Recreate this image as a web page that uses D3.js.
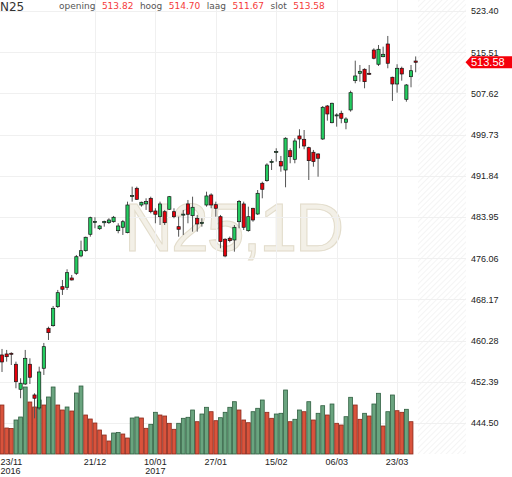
<!DOCTYPE html>
<html>
<head>
<meta charset="utf-8">
<script src="https://cdn.jsdelivr.net/npm/d3@7"></script>
<style>
  body { margin: 0; background: #fff; }
  svg text { font-family: "Liberation Sans", Arial, sans-serif; }
</style>
</head>
<body>
<div id="chart"></div>
<script>

// trading days, 23/11/2016 .. 29/03/2017
let dates = [
  '23/11','24/11','25/11','28/11','29/11','30/11',
  '01/12','02/12','05/12','06/12','07/12','08/12','09/12','12/12','13/12','14/12','15/12','16/12',
  '19/12','20/12','21/12','22/12','23/12','27/12','28/12','29/12','30/12',
  '02/01','03/01','04/01','05/01','06/01','09/01','10/01','11/01','12/01','13/01','16/01','17/01',
  '18/01','19/01','20/01','23/01','24/01','25/01','26/01','27/01','30/01','31/01',
  '01/02','02/02','03/02','06/02','07/02','08/02','09/02','10/02','13/02','14/02','15/02','16/02',
  '17/02','20/02','21/02','22/02','23/02','24/02','27/02','28/02',
  '01/03','02/03','03/03','06/03','07/03','08/03','09/03','10/03','13/03','14/03','15/03','16/03',
  '17/03','20/03','21/03','22/03','23/03','24/03','27/03','28/03','29/03'
];

let opens = [457.53,457.72,457.85,455.75,450.96,451.97,455.75,449.87,447.38,454.98,
  462.64,463.14,466.78,470.61,470.49,472.27,473.17,476.49,477.50,480.64,
  483.00,481.71,482.85,482.86,483.05,481.33,481.98,480.95,487.98,489.45,
  486.25,486.45,487.53,485.10,484.01,484.97,485.43,484.97,482.10,484.47,
  486.45,484.20,483.71,482.86,486.25,488.17,486.31,484.01,479.69,479.88,
  479.55,483.05,486.45,481.33,485.62,484.53,490.41,490.91,494.55,496.45,
  494.55,492.95,496.65,495.00,499.47,498.83,497.23,496.35,496.02,498.89,
  505.21,502.01,503.49,503.81,502.09,504.45,510.06,511.47,512.24,511.47,
  515.93,513.20,514.65,517.08,510.71,509.42,512.43,506.49,510.82,513.82];

let highs = [458.68,458.49,458.04,456.25,453.07,458.49,456.89,450.19,455.29,459.83,
  462.95,466.91,469.98,471.89,473.94,472.85,476.68,479.42,480.18,484.01,
  483.90,482.42,483.25,483.71,484.15,482.75,483.38,486.89,489.76,489.76,
  486.89,487.53,487.84,485.62,486.89,485.30,487.98,485.62,484.01,485.30,
  487.21,487.84,484.34,483.71,488.80,488.49,486.89,484.34,479.88,480.20,
  482.42,487.21,486.89,485.93,485.70,489.12,490.71,494.24,495.00,497.11,
  495.64,499.22,497.11,499.03,500.75,500.61,497.42,496.79,496.15,505.21,
  505.40,505.84,503.81,504.31,503.05,508.14,513.89,513.06,512.43,513.06,
  516.26,516.89,516.57,518.62,510.82,513.20,512.74,509.42,513.06,514.70];

let lows = [454.27,456.25,455.61,451.15,449.24,451.78,451.97,445.40,447.00,453.70,
  460.40,462.95,466.53,469.02,469.98,471.80,472.85,476.24,477.31,480.18,
  481.79,481.46,482.10,482.62,482.86,480.83,480.51,480.83,486.89,487.21,
  485.93,485.30,484.66,482.75,482.42,482.42,485.30,483.71,480.18,480.51,
  482.75,481.14,481.14,482.10,485.93,485.62,484.01,477.96,476.24,479.10,
  477.31,481.79,481.46,481.14,483.05,484.34,487.53,490.71,492.95,494.55,
  492.63,489.64,494.24,494.24,497.11,496.92,491.04,493.59,491.67,498.70,
  502.40,501.90,501.25,501.90,500.75,504.12,509.56,509.87,508.60,511.15,
  514.15,512.87,514.54,512.43,506.17,507.76,510.06,506.03,508.79,511.67];

let closes = [456.19,457.20,457.80,452.41,452.11,456.89,453.26,449.24,454.27,459.12,
  461.80,466.47,469.46,470.11,473.29,471.89,476.35,477.50,480.07,483.82,
  483.10,482.23,483.10,483.38,483.90,482.23,483.05,486.25,488.05,487.34,
  486.77,486.89,484.97,484.47,486.45,482.86,487.84,484.01,481.60,484.50,
  484.47,485.81,482.62,482.90,487.98,486.25,485.62,479.23,476.49,479.42,
  481.98,486.89,481.98,484.01,483.38,488.49,489.26,493.91,494.60,496.50,
  493.72,499.03,495.50,498.51,498.89,497.55,494.74,494.55,495.20,504.96,
  503.68,505.73,503.50,502.86,502.72,507.76,510.96,511.85,509.87,511.45,
  514.35,516.07,515.11,513.39,509.42,512.43,511.34,509.23,511.97,513.58];

// volume (millions), the running day has none yet
let volumes = [49,26,25.5,34,37,67,52,47,54,49,
  57,67,49,44,47,43,61,68,39,35,
  31,24,19,13,21,21.5,20,16,36,37,
  36,25.7,29.7,41.7,39,38,30.7,24.7,30.7,35.7,
  36.7,44,32.3,40,46.7,42.3,33.3,36.3,41.7,46.7,
  52.3,44,34,31.3,42.3,45.7,54,41.7,35.7,40,
  40.7,64,32.3,34.7,44,42.3,52.3,34,40.7,48.3,
  39,50,30.7,29,37.3,56.7,49,34.7,40.7,38,
  50,60.7,28,42.3,59,43.3,41.7,44.7,32.3,null];

let yTicks = [523.40, 515.51, 507.62, 499.73, 491.84, 483.95, 476.06, 468.17, 460.28, 452.39, 444.50];
let xTicks = ['23/11', '21/12', '10/01', '27/01', '15/02', '06/03', '23/03'];
let yearTicks = {'23/11': '2016', '10/01': '2017'};

let symbol = 'N25';
let watermark = 'N25,1D';

let width = 512;
let height = 477;
let plotRight = 466;
let plotBottom = 454;
let last = dates.length - 1;

let svg = d3.select('#chart')
    .append('svg')
    .attr('width', width)
    .attr('height', height);

let x = d3.scaleBand().domain(dates).range([-0.32, 418]);
let xc = d => x(d) + x.bandwidth() / 2;
let y = d3.scaleLinear().domain([444.50, 523.40]).range([423, 11]);
let yVol = d3.scaleLinear().domain([0, 100]).range([plotBottom, plotBottom - 100]);

// hatched future area
let defs = svg.append('defs');
defs.append('pattern')
    .attr('id', 'hatch')
    .attr('patternUnits', 'userSpaceOnUse')
    .attr('width', 4).attr('height', 4)
    .attr('patternTransform', 'rotate(45)')
  .append('line')
    .attr('x1', 0).attr('y1', 0).attr('x2', 0).attr('y2', 4)
    .attr('stroke', '#ececec').attr('stroke-width', 1.2);

svg.append('rect')
    .attr('x', 418).attr('y', 0)
    .attr('width', plotRight - 418).attr('height', plotBottom)
    .attr('fill', 'url(#hatch)');

// watermark
svg.append('text')
    .attr('x', 124).attr('y', 251)
    .attr('font-size', 68)
    .attr('textLength', 220)
    .attr('lengthAdjust', 'spacing')
    .attr('fill', '#f3f0e7')
    .attr('stroke', '#e2dccb')
    .attr('stroke-width', 1)
    .text(watermark);

// grid
let grid = svg.append('g').attr('class', 'grid');
grid.selectAll('line.h')
  .data(yTicks)
  .enter().append('line')
    .attr('class', 'h')
    .attr('x1', 0).attr('x2', plotRight)
    .attr('y1', d => Math.round(y(d)) + 0.5).attr('y2', d => Math.round(y(d)) + 0.5)
    .attr('stroke', '#f0f0f0');
grid.selectAll('line.v')
  .data(xTicks.slice(1))
  .enter().append('line')
    .attr('class', 'v')
    .attr('x1', d => Math.round(xc(d)) + 0.5).attr('x2', d => Math.round(xc(d)) + 0.5)
    .attr('y1', 0).attr('y2', plotBottom)
    .attr('stroke', '#f0f0f0');

// volume
let volIdx = d3.range(dates.length).filter(i => volumes[i] != null);
let volUp = i => i > 0 && volumes[i] > volumes[i - 1];
svg.append('g').attr('class', 'volume')
  .selectAll('rect')
  .data(volIdx)
  .enter().append('rect')
    .attr('x', i => x(dates[i]) + 0.4)
    .attr('width', x.bandwidth() - 0.8)
    .attr('y', i => yVol(volumes[i]))
    .attr('height', i => plotBottom - yVol(volumes[i]))
    .attr('fill', i => volUp(i) ? '#6aa47f' : '#d9533c')
    .attr('stroke', i => volUp(i) ? '#2f5f40' : '#8a2a1c')
    .attr('stroke-width', 0.8);

// candles
let candles = svg.append('g').attr('class', 'candles')
  .selectAll('g')
  .data(d3.range(dates.length))
  .enter().append('g');

candles.append('line')
    .attr('x1', i => xc(dates[i])).attr('x2', i => xc(dates[i]))
    .attr('y1', i => y(highs[i])).attr('y2', i => y(lows[i]))
    .attr('stroke', '#555')
    .attr('stroke-width', 1);

candles.append('rect')
    .attr('x', i => xc(dates[i]) - 1.6)
    .attr('width', 3.2)
    .attr('y', i => y(Math.max(opens[i], closes[i])))
    .attr('height', i => Math.max(1, Math.abs(y(opens[i]) - y(closes[i]))))
    .attr('fill', i => closes[i] >= opens[i] ? '#24cc60' : '#e6000b')
    .attr('stroke', '#151515')
    .attr('stroke-width', 0.7);

// right axis
let yAxis = svg.append('g').attr('class', 'y-axis');
yAxis.selectAll('text')
  .data(yTicks)
  .enter().append('text')
    .attr('x', 471)
    .attr('y', d => y(d) + 3.3)
    .attr('font-size', 9)
    .attr('fill', '#222')
    .text(d => d.toFixed(2));

// last price tag
let yl = y(closes[last]);
svg.append('path')
    .attr('d', `M465.5,${yl} L471,${yl - 6} L512,${yl - 6} L512,${yl + 6} L471,${yl + 6} Z`)
    .attr('fill', '#f5000a');
svg.append('text')
    .attr('x', 471).attr('y', yl + 4)
    .attr('font-size', 11)
    .attr('fill', '#fff')
    .text(closes[last].toFixed(2));

// bottom axis
let xAxis = svg.append('g').attr('class', 'x-axis');
xTicks.forEach(d => {
  let cx = xc(d);
  let edge = cx < 12;
  xAxis.append('text')
      .attr('x', edge ? 0.5 : cx)
      .attr('y', 464.5)
      .attr('text-anchor', edge ? 'start' : 'middle')
      .attr('font-size', 9)
      .attr('fill', '#222')
      .text(d);
  if (yearTicks[d]) {
    xAxis.append('text')
        .attr('x', edge ? 0.5 : cx)
        .attr('y', 473.5)
        .attr('text-anchor', edge ? 'start' : 'middle')
        .attr('font-size', 9)
        .attr('fill', '#222')
        .text(yearTicks[d]);
  }
});

// header
let header = svg.append('g').attr('class', 'header');
header.append('text')
    .attr('x', 0).attr('y', 10.7)
    .attr('font-size', 12)
    .attr('fill', '#333')
    .style('font-family', '"DejaVu Sans", Verdana, sans-serif')
    .text(symbol);

let info = [
  ['opening', opens[last]],
  ['hoog', highs[last]],
  ['laag', lows[last]],
  ['slot', closes[last]]
];
let hx = 59;
info.forEach(([label, val]) => {
  let t1 = header.append('text')
      .attr('x', hx).attr('y', 9.3)
      .attr('font-size', 9)
      .attr('fill', '#555')
      .style('font-family', '"DejaVu Sans", Verdana, sans-serif')
      .text(label);
  hx += t1.node().getComputedTextLength() + 6.5;
  let t2 = header.append('text')
      .attr('x', hx).attr('y', 9.3)
      .attr('font-size', 9)
      .attr('fill', '#f53a3a')
      .style('font-family', '"DejaVu Sans", Verdana, sans-serif')
      .text(val.toFixed(2));
  hx += t2.node().getComputedTextLength() + 6.5;
});

</script>
</body>
</html>
